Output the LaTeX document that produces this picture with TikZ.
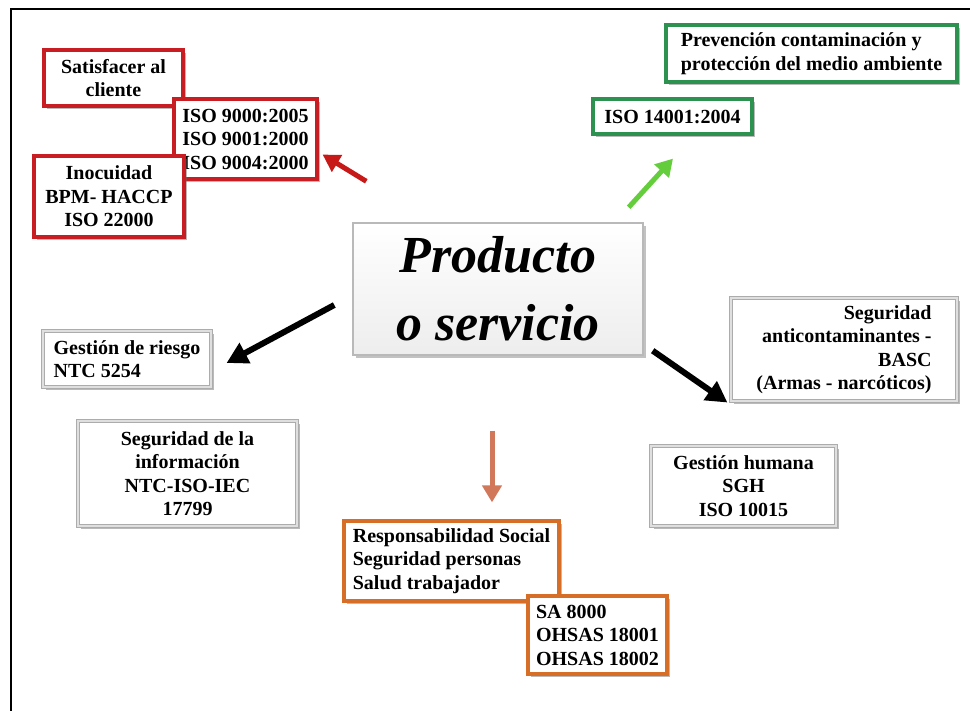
\documentclass[tikz,border=0pt]{standalone}
\usepackage{fontspec}
\setmainfont{Liberation Serif}
\usetikzlibrary{arrows.meta,shadows}
\definecolor{boxred}{RGB}{200,30,35}
\definecolor{boxgreen}{RGB}{45,145,80}
\definecolor{boxorange}{RGB}{215,110,40}
\definecolor{arrred}{RGB}{200,25,25}
\definecolor{arrgreen}{RGB}{100,205,60}
\definecolor{arrorange}{RGB}{210,120,90}
\begin{document}
\begin{tikzpicture}[x=1pt,y=-1pt,
  basebox/.style={rectangle, inner sep=0pt, fill=white, text=black,
    font=\fontsize{20}{23.5}\selectfont\bfseries,
    drop shadow={shadow xshift=3pt, shadow yshift=-3pt, opacity=0.45, fill=black!60}},
  redbox/.style={basebox, draw=boxred, line width=3.2pt},
  greenbox/.style={basebox, draw=boxgreen, line width=3.2pt},
  orangebox/.style={basebox, draw=boxorange, line width=3.2pt},
  graybox/.style={basebox, draw=gray!65, double=gray!25, double distance=1.8pt, line width=1.1pt},
  centerbox/.style={rectangle, inner sep=0pt, top color=white, bottom color=gray!14,
    draw=gray!55, line width=1.4pt,
    font=\fontsize{52}{68}\selectfont\bfseries\itshape,
    drop shadow={shadow xshift=3pt, shadow yshift=-3pt, opacity=0.4, fill=black!60}},
  arrow/.style={line width=5pt, -{Triangle[length=17pt, width=19pt]}},
  bigarrow/.style={line width=6pt, -{Triangle[length=21pt, width=22pt]}},
]
\useasboundingbox (0,0) rectangle (970,711);
% frame
\draw[line width=2.6pt] (11,720) -- (11,9) -- (980,9);

% boxes
\node[redbox, minimum width=139pt, minimum height=56pt, align=center] (sat) at (113.5,78) {Satisfacer al\\cliente};
\node[redbox, minimum width=143pt, minimum height=80pt, align=center] (iso9) at (245.5,139) {ISO 9000:2005\\ISO 9001:2000\\ISO 9004:2000};
\node[redbox, minimum width=150pt, minimum height=81pt, align=center] (ino) at (109,196.5) {Inocuidad\\BPM- HACCP\\ISO 22000};

\node[greenbox, minimum width=291pt, minimum height=57pt, align=left] (prev) at (811.5,53.5) {Prevención contaminación y\\protección del medio ambiente};
\node[greenbox, minimum width=159pt, minimum height=35pt, align=left] (iso14) at (672.5,116.5) {ISO 14001:2004};

\node[centerbox, minimum width=290pt, minimum height=132pt, align=center] (center) at (498,289) {Producto\\o servicio};

\node[graybox, minimum width=168pt, minimum height=56pt, align=left] (riesgo) at (127,359) {Gestión de riesgo\\NTC 5254};
\node[graybox, minimum width=219pt, minimum height=105pt, align=center] (info) at (187.5,473.5) {Seguridad de la\\información\\NTC-ISO-IEC\\17799};
\node[graybox, minimum width=226pt, minimum height=103pt, align=right] (basc) at (844,349.5) {Seguridad\\anticontaminantes -\\BASC\\(Armas - narcóticos)};
\node[graybox, minimum width=185pt, minimum height=80pt, align=center] (humana) at (743.5,486) {Gestión humana\\SGH\\ISO 10015};

\node[orangebox, minimum width=215pt, minimum height=80pt, align=left] (resp) at (451.5,561) {Responsabilidad Social\\Seguridad personas\\Salud trabajador};
\node[orangebox, minimum width=139pt, minimum height=78pt, align=left] (sa) at (597.5,635) {SA 8000\\OHSAS 18001\\OHSAS 18002};

% arrows
\draw[arrow, arrred] ([shift={(14,-41)}]center.north west) -- ([shift={(4,-26)}]iso9.south east);
\draw[arrow, arrgreen] ([shift={(-15,-15)}]center.north east) -- ([shift={(0.5,23)}]iso14.south);
\draw[bigarrow, black] ([shift={(-18,16)}]center.west) -- ([shift={(15,4)}]riesgo.east);
\draw[bigarrow, black] ([shift={(9,-5)}]center.south east) -- ([shift={(-3,1)}]basc.south west);
\draw[arrow, arrorange] ([shift={(-6,75)}]center.south) -- ([shift={(40.5,-17)}]resp.north);
\end{tikzpicture}
\end{document}
